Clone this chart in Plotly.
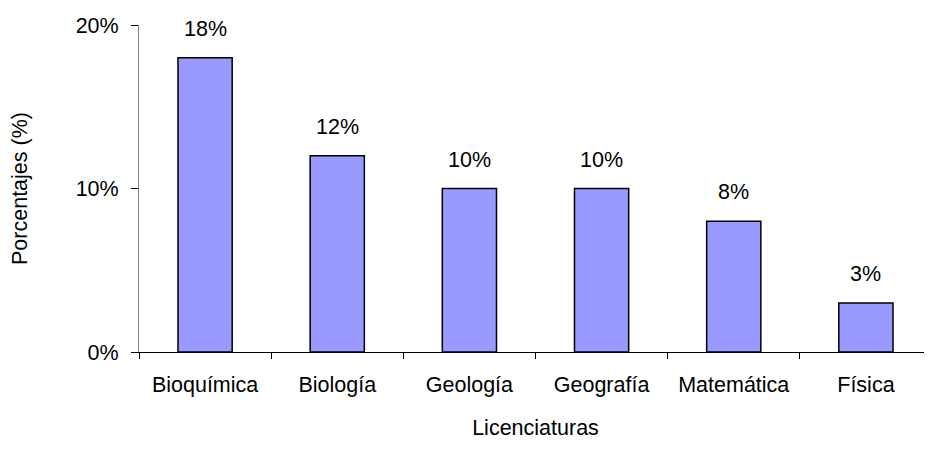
import plotly.graph_objects as go

categorias = ["Bioquímica", "Biología", "Geología", "Geografía", "Matemática", "Física"]
porcentajes = [0.18, 0.12, 0.10, 0.10, 0.08, 0.03]
etiquetas = ["18%", "12%", "10%", "10%", "8%", "3%"]

FONT = "Liberation Sans, Arial, sans-serif"
FS = 21.5

fig = go.Figure()
fig.add_trace(go.Bar(
    x=categorias, y=porcentajes,
    marker=dict(color="#9999FF", line=dict(color="#000000", width=1.5)),
    width=0.41,
    hoverinfo="skip",
))

for c, v, t in zip(categorias, porcentajes, etiquetas):
    fig.add_annotation(x=c, y=v, text=t, showarrow=False, yanchor="bottom",
                       yshift=15, font=dict(family=FONT, size=FS, color="#000"))

fig.update_layout(
    width=924, height=454,
    margin=dict(l=131, r=0, t=17, b=110),
    plot_bgcolor="white", paper_bgcolor="white",
    showlegend=False,
    font=dict(family=FONT, size=FS, color="#000"),
)
fig.update_yaxes(
    range=[0, 0.2], dtick=0.1, tickformat=".0%",
    showgrid=False, zeroline=False,
    showline=True, linecolor="#808080", linewidth=1,
    ticks="outside", ticklen=7, tickcolor="#000", tickwidth=1,
    ticklabelstandoff=8,
    title=dict(text="Porcentajes (%)", standoff=43, font=dict(size=FS)),
    tickfont=dict(size=FS),
)
fig.update_xaxes(
    showgrid=False, zeroline=False,
    showline=True, linecolor="#000", linewidth=1,
    ticks="outside", ticklen=6, tickcolor="#000", tickson="boundaries",
    ticklabelstandoff=13,
    title=dict(text="Licenciaturas", standoff=24, font=dict(size=FS)),
    tickfont=dict(size=FS),
)

fig.write_html("out.html")
